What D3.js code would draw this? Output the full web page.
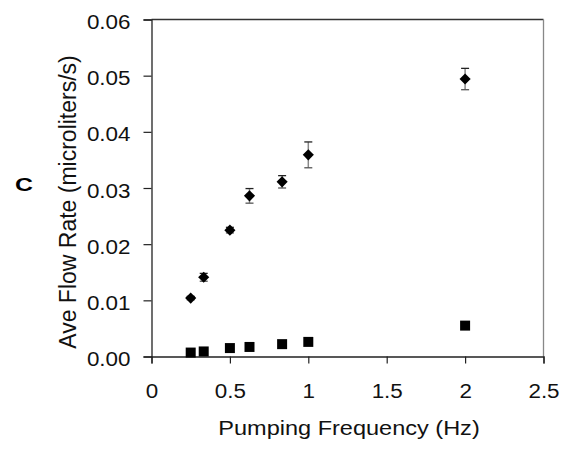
<!DOCTYPE html>
<html>
<head>
<meta charset="utf-8">
<script src="https://cdn.jsdelivr.net/npm/d3@7"></script>
<style>
  body { margin: 0; background: #fff; }
  svg { display: block; font-family: "Liberation Sans", Arial, sans-serif; }
</style>
</head>
<body>
<svg id="svg"></svg>
<script>
// data
const freqs = [0.25, 0.333, 0.5, 0.625, 0.833, 1, 2];
const flowA = [0.0104, 0.0141, 0.0225, 0.0286, 0.0311, 0.0359, 0.0494];
const errA  = [0.0003, 0.0007, 0.0005, 0.0013, 0.0011, 0.0023, 0.0019];
const flowB = [0.0007, 0.0009, 0.0015, 0.0017, 0.0022, 0.0026, 0.0055];
const xTicks = [0, 0.5, 1, 1.5, 2, 2.5];
const yTicks = [0, 0.01, 0.02, 0.03, 0.04, 0.05, 0.06];

const width = 571, height = 456;
const margin = {top: 19.5, left: 151.5, bottom: 99.5, right: 27.5};

const svg = d3.select('#svg').attr('width', width).attr('height', height);

const x = d3.scaleLinear().domain([0, 2.5]).range([margin.left, width - margin.right]);
const y = d3.scaleLinear().domain([0, 0.06]).range([height - margin.bottom, margin.top]);

// frame top + right
svg.append('line')
  .attr('x1', margin.left).attr('x2', width - margin.right)
  .attr('y1', margin.top).attr('y2', margin.top)
  .attr('stroke', '#333').attr('stroke-width', 1.3);
svg.append('line')
  .attr('x1', width - margin.right).attr('x2', width - margin.right)
  .attr('y1', margin.top).attr('y2', height - margin.bottom)
  .attr('stroke', '#888').attr('stroke-width', 1.3);

// axes
const xAxis = d3.axisBottom(x).tickValues(xTicks).tickFormat(d => String(d))
  .tickSizeOuter(0).tickSize(7).tickPadding(20);
const yAxis = d3.axisLeft(y).tickValues(yTicks).tickFormat(d3.format('.2f'))
  .tickSizeOuter(0).tickSize(8).tickPadding(13);

const xGroup = svg.append('g')
  .attr('transform', `translate(0,${height - margin.bottom})`)
  .call(xAxis);
const yGroup = svg.append('g')
  .attr('transform', `translate(${margin.left},0)`)
  .call(yAxis);

[xGroup, yGroup].forEach(g => {
  g.select('.domain').attr('stroke', '#222').attr('stroke-width', 1.3);
  g.selectAll('.tick line').attr('stroke', '#222').attr('stroke-width', 1.2);
  g.selectAll('.tick text').attr('font-size', 20).attr('fill', '#111')
    .attr('font-family', '"Liberation Sans", Arial, sans-serif');
});
yGroup.selectAll('.tick text').attr('dy', '0.45em');

// error bars
const eb = svg.append('g');
freqs.forEach((f, i) => {
  const cx = x(f), top = y(flowA[i] + errA[i]), bot = y(flowA[i] - errA[i]);
  eb.append('line').attr('x1', cx).attr('x2', cx).attr('y1', top).attr('y2', bot)
    .attr('stroke', '#888').attr('stroke-width', 1.5);
  eb.append('line').attr('x1', cx - 4).attr('x2', cx + 4).attr('y1', top).attr('y2', top)
    .attr('stroke', '#222').attr('stroke-width', 1.3);
  eb.append('line').attr('x1', cx - 4).attr('x2', cx + 4).attr('y1', bot).attr('y2', bot)
    .attr('stroke', '#555').attr('stroke-width', 1.3);
});

// diamonds
svg.append('g').selectAll('path')
  .data(freqs.map((f, i) => [f, flowA[i]]))
  .enter().append('path')
  .attr('d', d3.symbol().type(d3.symbolSquare).size(62))
  .attr('transform', d => `translate(${x(d[0])},${y(d[1])}) rotate(45)`)
  .attr('fill', '#000');

// squares
svg.append('g').selectAll('path')
  .data(freqs.map((f, i) => [f, flowB[i]]))
  .enter().append('path')
  .attr('d', d3.symbol().type(d3.symbolSquare).size(100))
  .attr('transform', d => `translate(${x(d[0])},${y(d[1])})`)
  .attr('fill', '#000');

// axis titles
svg.append('text')
  .attr('class', 'stretch')
  .attr('x', 349).attr('y', 435)
  .attr('text-anchor', 'middle').attr('font-size', 21).attr('fill', '#111')
  .text('Pumping Frequency (Hz)');

svg.append('text')
  .attr('transform', 'translate(76,202) rotate(-90)')
  .attr('text-anchor', 'middle').attr('font-size', 23).attr('fill', '#111')
  .text('Ave Flow Rate (microliters/s)');

svg.append('text')
  .attr('x', 24).attr('y', 190.5)
  .attr('text-anchor', 'middle').attr('font-size', 19).attr('font-weight', 'bold')
  .attr('textLength', 18).attr('lengthAdjust', 'spacingAndGlyphs')
  .text('C');

// the original is a bit wider than tall: stretch horizontal labels
svg.selectAll('.tick text, text.stretch').each(function () {
  const w = this.getComputedTextLength();
  this.setAttribute('textLength', w * 1.12);
  this.setAttribute('lengthAdjust', 'spacingAndGlyphs');
});
</script>
</body>
</html>
